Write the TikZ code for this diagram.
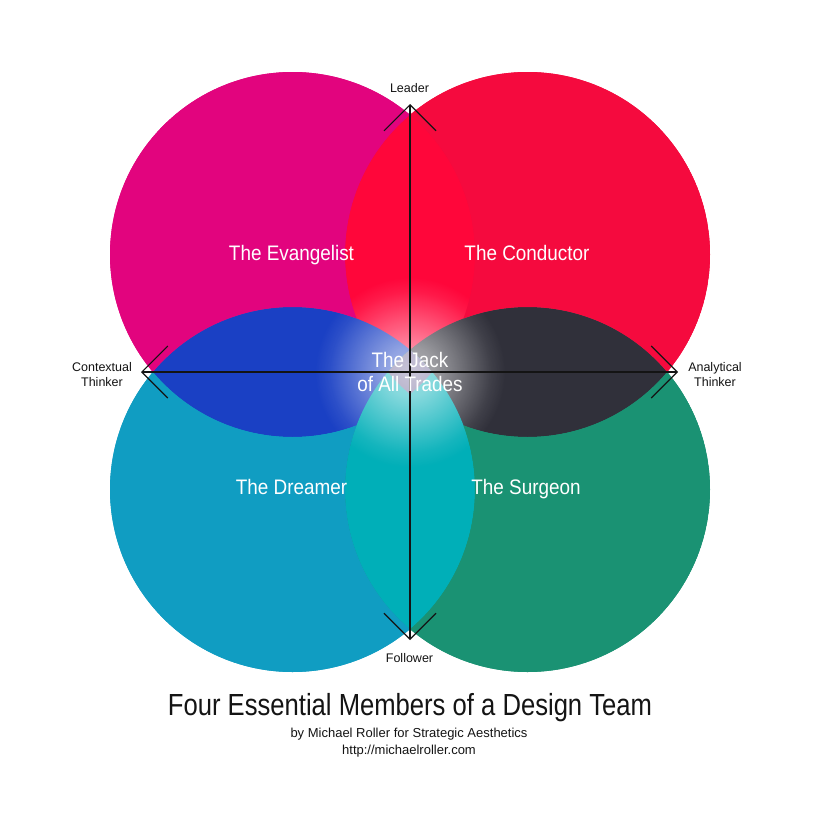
\documentclass[tikz,border=0pt]{standalone}
\usepackage{fontspec}
\setmainfont{Liberation Sans}
\newfontfamily\labfont{Liberation Sans}[FakeStretch=0.9]
\newfontfamily\titfont{Liberation Sans}[FakeStretch=0.84]
\usetikzlibrary{arrows.meta,fadings}

\definecolor{cTL}{RGB}{226,4,126}
\definecolor{cTR}{RGB}{245,10,62}
\definecolor{cBL}{RGB}{16,157,194}
\definecolor{cBR}{RGB}{26,146,115}
\definecolor{lensT}{RGB}{255,6,58}
\definecolor{lensL}{RGB}{26,64,196}
\definecolor{lensR}{RGB}{48,48,58}
\definecolor{lensB}{RGB}{0,175,184}
\definecolor{lensC}{RGB}{110,100,150}
\definecolor{ink}{RGB}{20,20,20}

\pgfdeclareradialshading{glowshade}{\pgfpointorigin}{color(0bp)=(black!38); color(25bp)=(black!48); color(55bp)=(black!72); color(80bp)=(black!92); color(95bp)=(black); color(100bp)=(black)}
\pgfdeclarefading{glowfade}{\pgfuseshading{glowshade}}

\tikzset{
  rolelabel/.style={text=white, font=\labfont\fontsize{21}{24}\selectfont, inner sep=0pt, anchor=base},
  axislabel/.style={text=ink, font=\fontsize{12.5}{15}\selectfont, inner sep=0pt, anchor=base},
  axisline/.style={line width=1.1pt, draw=ink,
    {Straight Barb[length=26pt,width=52pt]}-{Straight Barb[length=26pt,width=52pt]}},
}

\begin{document}
\begin{tikzpicture}[x=1pt,y=-1pt]
\fill[white] (0,0) rectangle (819,819);
\useasboundingbox (0,0) rectangle (819,819);

\coordinate (TL) at (292.5,254.5);
\coordinate (TR) at (527.5,254.5);
\coordinate (BL) at (292.5,489.5);
\coordinate (BR) at (527.5,489.5);
\coordinate (mid) at (410,372);

% base circles
\fill[cTL] (TL) circle[radius=182.5];
\fill[cTR] (TR) circle[radius=182.5];
\fill[cBL] (BL) circle[radius=182.5];
\fill[cBR] (BR) circle[radius=182.5];

% lenses
\begin{scope}\clip (TL) circle[radius=182.5]; \fill[lensT] (TR) circle[radius=182.5];\end{scope}
\begin{scope}\clip (TL) circle[radius=182.5]; \fill[lensL] (BL) circle[radius=182.5];\end{scope}
\begin{scope}\clip (TR) circle[radius=182.5]; \fill[lensR] (BR) circle[radius=182.5];\end{scope}
\begin{scope}\clip (BL) circle[radius=182.5]; \fill[lensB] (BR) circle[radius=182.5];\end{scope}
\begin{scope}
  \clip (TL) circle[radius=182.5];
  \clip (TR) circle[radius=182.5];
  \clip (BL) circle[radius=182.5];
  \fill[lensC] (BR) circle[radius=182.5];
\end{scope}

% central glow
\fill[white, path fading=glowfade, fit fading=false, fading transform={shift={(mid)}}] (mid) circle[radius=100];

% restore single regions
\begin{scope}[even odd rule]
  \clip (TL) circle[radius=182.5];
  \clip (0,0) rectangle (819,819) (TR) circle[radius=182.5];
  \clip (0,0) rectangle (819,819) (BL) circle[radius=182.5];
  \clip (0,0) rectangle (819,819) (BR) circle[radius=182.5];
  \fill[cTL] (TL) circle[radius=183];
\end{scope}
\begin{scope}[even odd rule]
  \clip (TR) circle[radius=182.5];
  \clip (0,0) rectangle (819,819) (TL) circle[radius=182.5];
  \clip (0,0) rectangle (819,819) (BL) circle[radius=182.5];
  \clip (0,0) rectangle (819,819) (BR) circle[radius=182.5];
  \fill[cTR] (TR) circle[radius=183];
\end{scope}
\begin{scope}[even odd rule]
  \clip (BL) circle[radius=182.5];
  \clip (0,0) rectangle (819,819) (TL) circle[radius=182.5];
  \clip (0,0) rectangle (819,819) (TR) circle[radius=182.5];
  \clip (0,0) rectangle (819,819) (BR) circle[radius=182.5];
  \fill[cBL] (BL) circle[radius=183];
\end{scope}
\begin{scope}[even odd rule]
  \clip (BR) circle[radius=182.5];
  \clip (0,0) rectangle (819,819) (TL) circle[radius=182.5];
  \clip (0,0) rectangle (819,819) (TR) circle[radius=182.5];
  \clip (0,0) rectangle (819,819) (BL) circle[radius=182.5];
  \fill[cBR] (BR) circle[radius=183];
\end{scope}

% axes
\coordinate (top) at (410,104);
\coordinate (bottom) at (410,640);
\coordinate (left) at (141,372);
\coordinate (right) at (678,372);
\draw[axisline] (left) -- (right);
\draw[axisline] (bottom) -- (top);

% role labels
\node[rolelabel] (evangelist) at (291.5,260) {The Evangelist};
\node[rolelabel] (conductor) at (527,260) {The Conductor};
\node[rolelabel] (dreamer) at (291.5,494) {The Dreamer};
\node[rolelabel] (surgeon) at (526,494) {The Surgeon};
\node[rolelabel] (jack1) at (410,367) {The Jack};
\node[rolelabel] (jack2) at (410,391) {of All Trades};

% axis labels
\node[axislabel] (leader) at (409.5,92) {Leader};
\node[axislabel] (follower) at (409.5,662) {Follower};
\node[axislabel] (ctx1) at (102,371.5) {Contextual};
\node[axislabel] (ctx2) at (102,386.5) {Thinker};
\node[axislabel] (ana1) at (715,371.5) {Analytical};
\node[axislabel] (ana2) at (715,386.5) {Thinker};

% title
\node[text=ink, font=\titfont\fontsize{30.5}{34}\selectfont, inner sep=0pt, anchor=base] (title) at (410,715) {Four Essential Members of a Design Team};
\node[text=ink, font=\fontsize{13}{15}\selectfont, inner sep=0pt, anchor=base] (by) at (409,737) {by Michael Roller for Strategic Aesthetics};
\node[text=ink, font=\fontsize{13}{15}\selectfont, inner sep=0pt, anchor=base] (url) at (409,754) {http://michaelroller.com};
\end{tikzpicture}
\end{document}
